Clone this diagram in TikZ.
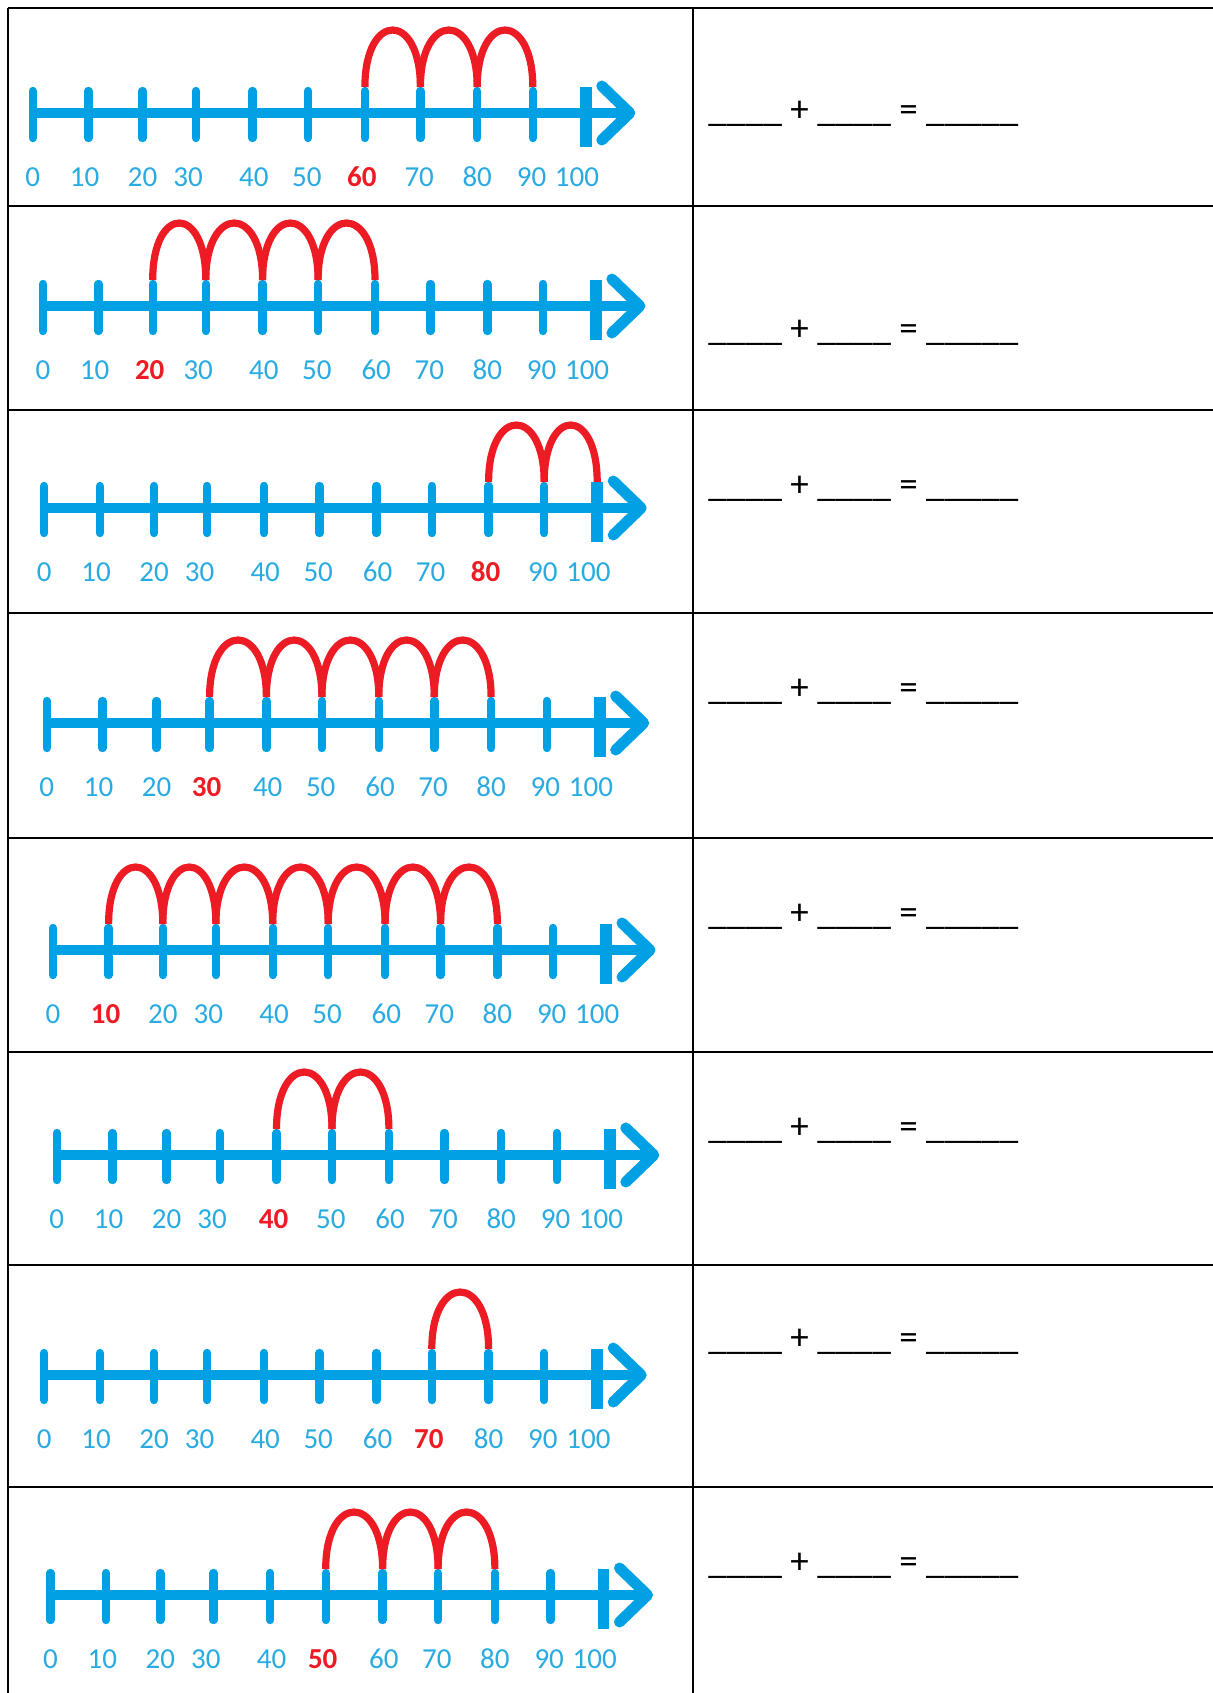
\documentclass[tikz,border=0pt]{standalone}
\usepackage{fontspec}
\setmainfont{Carlito}
\usepackage{tikz}
\usetikzlibrary{positioning}

\definecolor{lineblue}{RGB}{0,160,228}
\definecolor{labelblue}{RGB}{41,171,226}
\definecolor{jumpred}{RGB}{237,28,36}

\tikzset{
  mygrid/.style={draw=black, line width=1.3pt},
  myaxis/.style={draw=lineblue, line width=5pt},
  mytick/.style={draw=lineblue, line width=4.2pt, line cap=round},
  myendtick/.style={draw=lineblue, line width=5.8pt},
  myhead/.style={draw=lineblue, line width=5.5pt, line cap=round, line join=round},
  myjump/.style={draw=jumpred, line width=3.6pt},
  mylabel/.style={text=labelblue, inner sep=0pt, font=\fontsize{14.5}{17}\selectfont},
  mystart/.style={mylabel, text=jumpred, font=\fontsize{14.5}{17}\selectfont\bfseries},
  mysum/.style={anchor=base west, inner sep=0pt, font=\fontsize{18.5}{22}\selectfont},
}

% #1 name, #2 x of zero, #3 y of axis, #4 first jump, #5 number of jumps
\newcommand{\jumpline}[5]{%
  \begin{scope}[shift={(#2,#3)}]
    \draw[myaxis] (0,0) -- (594,0);
    \draw[myhead] (569,-27) -- (597,0) -- (569,27);
    \foreach \i/\xt/\xl in {0/0/0,1/55.6/51.8,2/109.8/109.8,3/162.9/155.3,4/219.7/221,5/275.2/274,6/332.1/333.3,7/387.6/386.4,8/444.4/444.4,9/500/498.7}{
      \draw[mytick] (\xt,-22) -- (\xt,25);
      \coordinate (#1-\i) at (\xt,-26);
      \pgfmathtruncatemacro\val{10*\i}
      \ifnum\i=#4
        \node[mystart] (#1-lab\i) at (\xt-3,64) {\val};
      \else
        \node[mylabel] (#1-lab\i) at (\xl,64) {\val};
      \fi
    }
    \draw[myendtick] (553,-26) -- (553,34);
    \coordinate (#1-10) at (553,-26);
    \node[mylabel] (#1-lab10) at (544.2,64) {100};
    \pgfmathtruncatemacro\last{#4+#5-1}
    \foreach \k [evaluate=\k as \kk using int(\k+1)] in {#4,...,\last}
      \draw[myjump] (#1-\k) .. controls +(0,-76) and +(0,-76) .. (#1-\kk);
  \end{scope}
}

\begin{document}
\begin{tikzpicture}[x=0.5pt, y=-0.5pt]
  \useasboundingbox (0,0) rectangle (1213,1693);
  \foreach \yr in {8,206,410,613,838,1052,1265,1487}
    \draw[mygrid] (8,\yr) -- (1213,\yr);
  \draw[mygrid] (8,8) -- (8,1693);
  \draw[mygrid] (693,8) -- (693,1693);

  \foreach \r/\xo/\ya/\st/\nj/\yb in {1/32.8/113/6/3/121, 2/42.9/306/2/4/340, 3/44.2/508/8/2/496, 4/46.7/723/3/5/699, 5/53/950/1/7/924, 6/56.8/1155/4/2/1138, 7/44.2/1375/7/1/1349, 8/50.5/1595/5/3/1573}{
    \jumpline{row\r}{\xo}{\ya}{\st}{\nj}
    \node[mysum] (sum\r) at (708,\yb) {\_\_\_\_ + \_\_\_\_ = \_\_\_\_\_};
  }
\end{tikzpicture}
\end{document}
